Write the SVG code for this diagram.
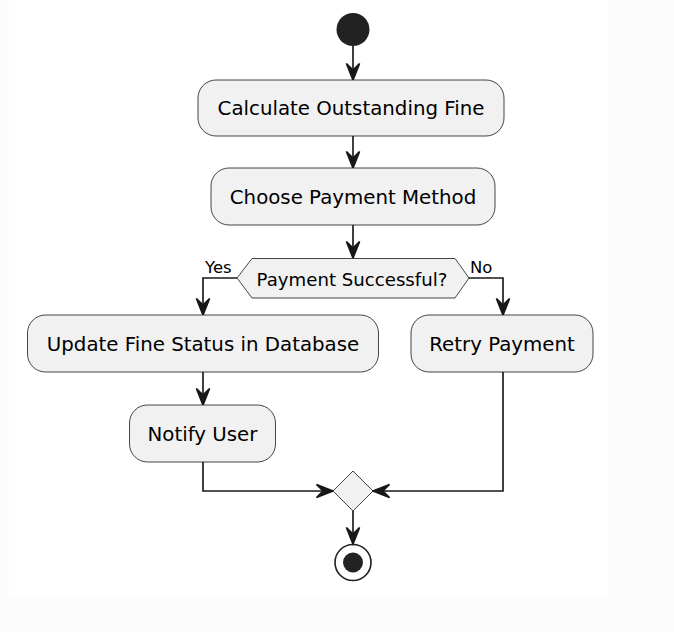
<svg xmlns="http://www.w3.org/2000/svg" width="674" height="632" viewBox="0 0 674 632">
<style>
.act{fill:#F1F1F1;stroke:#181818;stroke-width:0.8}
.t{font-family:"DejaVu Sans",sans-serif;font-size:19.8px;fill:#000;text-anchor:middle}
.td{font-family:"DejaVu Sans",sans-serif;font-size:18.15px;fill:#000;text-anchor:middle}
.tl{font-family:"DejaVu Sans",sans-serif;font-size:16.5px;fill:#000}
.ln{fill:none;stroke:#181818;stroke-width:1.65}
.ah{fill:#181818;stroke:#181818;stroke-width:1.65}
</style>
<defs>
<path id="ad" d="M-6.6,-16.5 L0,0 L6.6,-16.5 L0,-9.9 Z"/>
</defs>
<rect x="0" y="0" width="674" height="632" fill="#FCFCFC"/>
<rect x="9" y="0" width="599" height="597" fill="#FFFFFF"/>

<g id="connectors">
<line class="ln" x1="353" y1="46" x2="353" y2="80"/>
<use href="#ad" class="ah" x="353" y="80"/>
<line class="ln" x1="353" y1="136" x2="353" y2="168"/>
<use href="#ad" class="ah" x="353" y="168"/>
<line class="ln" x1="353" y1="225" x2="353" y2="258"/>
<use href="#ad" class="ah" x="353" y="258"/>
<polyline class="ln" points="237,278 203,278 203,315"/>
<use href="#ad" class="ah" x="203" y="315"/>
<polyline class="ln" points="469,278 503,278 503,315"/>
<use href="#ad" class="ah" x="503" y="315"/>
<line class="ln" x1="203" y1="372" x2="203" y2="405"/>
<use href="#ad" class="ah" x="203" y="405"/>
<polyline class="ln" points="203,462 203,491 333,491"/>
<use href="#ad" class="ah" transform="translate(333,491) rotate(-90)"/>
<polyline class="ln" points="503,372 503,491 373,491"/>
<use href="#ad" class="ah" transform="translate(373,491) rotate(90)"/>
<line class="ln" x1="353" y1="511" x2="353" y2="544"/>
<use href="#ad" class="ah" x="353" y="544"/>
<text class="tl" x="205" y="273">Yes</text>
<text class="tl" x="470" y="273">No</text>
</g>

<g id="start"><circle cx="353" cy="29.5" r="16.5" fill="#222222"/></g>

<g id="calc"><rect class="act" x="198" y="80" width="306" height="56" rx="18" ry="18"/>
<text class="t" x="351" y="115">Calculate Outstanding Fine</text></g>

<g id="choose"><rect class="act" x="211" y="168" width="284" height="57" rx="18" ry="18"/>
<text class="t" x="353" y="203.5">Choose Payment Method</text></g>

<g id="decision"><polygon class="act" points="237,278 252,258.5 455,258.5 469,278 455,298 252,298"/>
<text class="td" x="352" y="285.5">Payment Successful?</text></g>

<g id="update"><rect class="act" x="27.5" y="315" width="351" height="57" rx="18" ry="18"/>
<text class="t" x="203" y="350.5">Update Fine Status in Database</text></g>

<g id="retry"><rect class="act" x="411" y="315" width="182" height="57" rx="18" ry="18"/>
<text class="t" x="502" y="350.5">Retry Payment</text></g>

<g id="notify"><rect class="act" x="129.5" y="405" width="146" height="57" rx="18" ry="18"/>
<text class="t" x="202.5" y="440.5">Notify User</text></g>

<g id="merge"><polygon class="act" points="353,471 373,491 353,511 333,491"/></g>

<g id="end"><circle cx="353" cy="562.5" r="18" fill="none" stroke="#222222" stroke-width="1.65"/>
<circle cx="353" cy="562.5" r="10" fill="#222222"/></g>
</svg>
